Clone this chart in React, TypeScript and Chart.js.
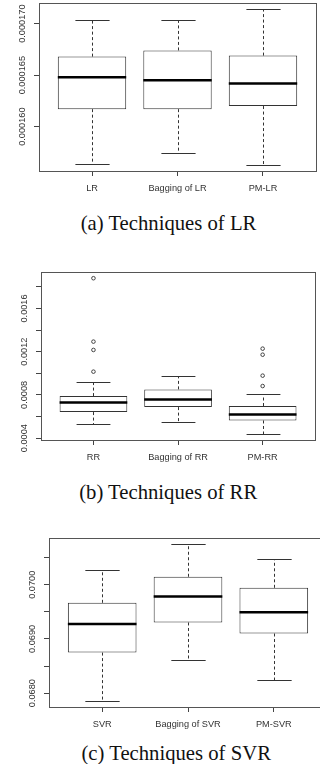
import React, { useEffect, useRef } from "react";
import { Chart, registerables } from "chart.js";

Chart.register(...registerables);

// ---------- Data: (a) Techniques of LR ----------
const lrCategories = ["LR", "Bagging of LR", "PM-LR"];
const lrLow = [0.0001564, 0.0001574, 0.0001563];
const lrQ1 = [0.0001617, 0.0001617, 0.000162];
const lrMedian = [0.0001648, 0.0001645, 0.0001642];
const lrQ3 = [0.0001668, 0.0001674, 0.0001669];
const lrHigh = [0.0001704, 0.0001704, 0.0001714];
const lrOutliers: number[][] = [[], [], []];
const lrTickValues = [0.00016, 0.000165, 0.00017];
const lrTickLabels = ["0.000160", "0.000165", "0.000170"];

// ---------- Data: (b) Techniques of RR ----------
const rrCategories = ["RR", "Bagging of RR", "PM-RR"];
const rrLow = [0.000526, 0.000548, 0.00044];
const rrQ1 = [0.000641, 0.000687, 0.000563];
const rrMedian = [0.00073, 0.000758, 0.000619];
const rrQ3 = [0.000789, 0.000851, 0.000697];
const rrHigh = [0.000919, 0.000975, 0.000804];
const rrOutliers: number[][] = [
  [0.001015, 0.001216, 0.001293, 0.00188],
  [],
  [0.000882, 0.000978, 0.001172, 0.001228],
];
const rrTickValues = [0.0004, 0.0006, 0.0008, 0.001, 0.0012, 0.0014, 0.0016, 0.0018];
const rrTickLabels = ["0.0004", "", "0.0008", "", "0.0012", "", "0.0016", ""];

// ---------- Data: (c) Techniques of SVR ----------
const svrCategories = ["SVR", "Bagging of SVR", "PM-SVR"];
const svrLow = [0.067859, 0.068619, 0.068248];
const svrQ1 = [0.068748, 0.069304, 0.0691];
const svrMedian = [0.069278, 0.069785, 0.069494];
const svrQ3 = [0.069667, 0.070148, 0.069944];
const svrHigh = [0.070267, 0.070748, 0.07047];
const svrOutliers: number[][] = [[], [], []];
const svrTickValues = [0.068, 0.0685, 0.069, 0.0695, 0.07, 0.0705];
const svrTickLabels = ["0.0680", "", "0.0690", "", "0.0700", ""];

const captions = ["(a) Techniques of LR", "(b) Techniques of RR", "(c) Techniques of SVR"];

type Stats = {
  categories: string[];
  low: number[];
  q1: number[];
  median: number[];
  q3: number[];
  high: number[];
  outliers: number[][];
  tickValues: number[];
  tickLabels: string[];
};

type Layout = {
  top: number;
  width: number;
  height: number;
  padTop: number;
  padRight: number;
  axisW: number;
  axisH: number;
  captionTop: number;
  captionCenter: number;
};

const AXIS_FONT = '"Liberation Sans", Arial, sans-serif';

function makePlugin(s: Stats) {
  const line = (ctx: CanvasRenderingContext2D, x1: number, y1: number, x2: number, y2: number) => {
    ctx.beginPath();
    ctx.moveTo(x1, y1);
    ctx.lineTo(x2, y2);
    ctx.stroke();
  };
  return {
    id: "rbox",
    beforeDatasetsDraw(chart: any) {
      const ctx: CanvasRenderingContext2D = chart.ctx;
      const y = chart.scales.y;
      const meta = chart.getDatasetMeta(0);
      ctx.save();
      ctx.strokeStyle = "#333";
      ctx.lineWidth = 1;
      s.low.forEach((lo, i) => {
        const bar = meta.data[i];
        const cx = Math.round(bar.x) + 0.5;
        const cap = bar.width / 4;
        const yHi = Math.round(y.getPixelForValue(s.high[i])) + 0.5;
        const yLo = Math.round(y.getPixelForValue(lo)) + 0.5;
        ctx.setLineDash([3, 2.5]);
        line(ctx, cx, y.getPixelForValue(s.q3[i]), cx, yHi);
        line(ctx, cx, y.getPixelForValue(s.q1[i]), cx, yLo);
        ctx.setLineDash([]);
        line(ctx, cx - cap, yHi, cx + cap, yHi);
        line(ctx, cx - cap, yLo, cx + cap, yLo);
      });
      ctx.restore();
    },
    afterDatasetsDraw(chart: any) {
      const ctx: CanvasRenderingContext2D = chart.ctx;
      const y = chart.scales.y;
      const meta = chart.getDatasetMeta(0);
      ctx.save();
      ctx.strokeStyle = "#000";
      ctx.lineWidth = 2.5;
      s.median.forEach((m, i) => {
        const bar = meta.data[i];
        const ym = y.getPixelForValue(m);
        line(ctx, bar.x - bar.width / 2, ym, bar.x + bar.width / 2, ym);
      });
      ctx.restore();
    },
    afterDraw(chart: any) {
      const ctx: CanvasRenderingContext2D = chart.ctx;
      const a = chart.chartArea;
      const y = chart.scales.y;
      ctx.save();
      ctx.strokeStyle = "#555";
      ctx.lineWidth = 1;
      ctx.strokeRect(Math.round(a.left) + 0.5, Math.round(a.top) + 0.5, Math.round(a.right - a.left), Math.round(a.bottom - a.top));
      ctx.fillStyle = "#333";
      ctx.font = `9.2px ${AXIS_FONT}`;
      ctx.textAlign = "center";
      ctx.textBaseline = "middle";
      s.tickValues.forEach((v, i) => {
        const label = s.tickLabels[i];
        if (!label) return;
        const py = y.getPixelForValue(v);
        ctx.save();
        ctx.translate(a.left - 16.5, py);
        ctx.rotate(-Math.PI / 2);
        ctx.fillText(label, 0, 0);
        ctx.restore();
      });
      ctx.restore();
    },
  };
}

function BoxPanel({ stats, layout, caption }: { stats: Stats; layout: Layout; caption: string }) {
  const ref = useRef<HTMLCanvasElement | null>(null);
  useEffect(() => {
    if (!ref.current) return;
    const all = [...stats.low, ...stats.high, ...stats.outliers.flat()];
    const lo = Math.min(...all);
    const hi = Math.max(...all);
    const ext = (hi - lo) * 0.04;
    const n = stats.categories.length;
    const chart = new Chart(ref.current, {
      type: "bar",
      data: {
        datasets: [
          {
            type: "bar",
            data: stats.categories.map((_, i) => ({ x: i + 1, y: [stats.q1[i], stats.q3[i]] })) as any,
            backgroundColor: "#fff",
            borderColor: "#333",
            borderWidth: 1,
            borderSkipped: false,
            barPercentage: 0.8,
            categoryPercentage: 1,
          } as any,
          {
            type: "scatter",
            data: stats.outliers.flatMap((arr, i) => arr.map((v) => ({ x: i + 1, y: v }))),
            pointRadius: 1.8,
            pointBorderWidth: 0.9,
            pointBorderColor: "#333",
            pointBackgroundColor: "rgba(0,0,0,0)",
            showLine: false,
          } as any,
        ],
      },
      options: {
        animation: false,
        responsive: false,
        devicePixelRatio: 1,
        events: [],
        layout: { padding: { top: layout.padTop, right: layout.padRight, left: 0, bottom: 0 } },
        plugins: { legend: { display: false }, tooltip: { enabled: false } },
        scales: {
          x: {
            type: "linear",
            min: 0.5 - 0.04 * n,
            max: n + 0.5 + 0.04 * n,
            bounds: "data",
            offset: false,
            afterBuildTicks: (s: any) => {
              s.ticks = stats.categories.map((_, i) => ({ value: i + 1 }));
            },
            ticks: {
              callback: (v: any) => stats.categories[Math.round(Number(v)) - 1] ?? "",
              autoSkip: false,
              maxRotation: 0,
              minRotation: 0,
              font: { family: AXIS_FONT, size: 9.2 },
              color: "#333",
              padding: 7,
            },
            grid: { drawOnChartArea: false, drawTicks: true, tickLength: 5, color: "#444", offset: false },
            border: { display: false },
            afterFit: (s: any) => {
              s.height = layout.axisH;
            },
          } as any,
          y: {
            type: "linear",
            min: lo - ext,
            max: hi + ext,
            bounds: "data",
            afterBuildTicks: (s: any) => {
              s.ticks = stats.tickValues.map((v) => ({ value: v }));
            },
            ticks: { display: false },
            grid: { drawOnChartArea: false, drawTicks: true, tickLength: 5, color: "#444" },
            border: { display: false },
            afterFit: (s: any) => {
              s.width = layout.axisW;
            },
          } as any,
        },
      },
      plugins: [makePlugin(stats) as any],
    });
    return () => chart.destroy();
  }, [stats, layout]);

  return (
    <>
      <canvas
        ref={ref}
        width={layout.width}
        height={layout.height}
        style={{ position: "absolute", left: 0, top: layout.top, width: layout.width, height: layout.height }}
      />
      <div
        style={{
          position: "absolute",
          left: layout.captionCenter - 160,
          width: 320,
          top: layout.captionTop,
          textAlign: "center",
          fontFamily: '"Liberation Serif", serif',
          fontSize: "20.7px",
          lineHeight: "20.7px",
          color: "#111",
          whiteSpace: "nowrap",
        }}
      >
        {caption}
      </div>
    </>
  );
}

const lrStats: Stats = {
  categories: lrCategories, low: lrLow, q1: lrQ1, median: lrMedian, q3: lrQ3, high: lrHigh,
  outliers: lrOutliers, tickValues: lrTickValues, tickLabels: lrTickLabels,
};
const rrStats: Stats = {
  categories: rrCategories, low: rrLow, q1: rrQ1, median: rrMedian, q3: rrQ3, high: rrHigh,
  outliers: rrOutliers, tickValues: rrTickValues, tickLabels: rrTickLabels,
};
const svrStats: Stats = {
  categories: svrCategories, low: svrLow, q1: svrQ1, median: svrMedian, q3: svrQ3, high: svrHigh,
  outliers: svrOutliers, tickValues: svrTickValues, tickLabels: svrTickLabels,
};

const layoutA: Layout = { top: 0, width: 320, height: 200, padTop: 3, padRight: 4, axisW: 39, axisH: 29, captionTop: 212.7, captionCenter: 168.5 };
const layoutB: Layout = { top: 250, width: 320, height: 230, padTop: 22, padRight: 3, axisW: 41, axisH: 40, captionTop: 481.7, captionCenter: 168.2 };
const layoutC: Layout = { top: 510, width: 340, height: 230, padTop: 28, padRight: 13, axisW: 49, axisH: 33, captionTop: 743.4, captionCenter: 176.2 };

export default function App() {
  return (
    <div
      style={{
        position: "absolute",
        left: 0,
        top: 0,
        width: 320,
        height: 764,
        overflow: "hidden",
        background: "#fff",
      }}
    >
      <BoxPanel stats={lrStats} layout={layoutA} caption={captions[0]} />
      <BoxPanel stats={rrStats} layout={layoutB} caption={captions[1]} />
      <BoxPanel stats={svrStats} layout={layoutC} caption={captions[2]} />
    </div>
  );
}
